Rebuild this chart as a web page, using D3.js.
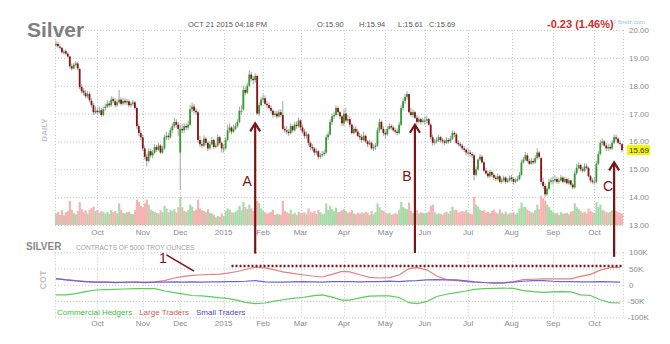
<!DOCTYPE html>
<html>
<head>
<meta charset="utf-8">
<script src="https://cdn.jsdelivr.net/npm/d3@7"></script>
<style>
  body { margin: 0; background: #fff; }
  svg { display: block; }
  text { font-family: "Liberation Sans", Arial, sans-serif; }
</style>
</head>
<body>
<svg id="chart" width="670" height="344"></svg>
<script>
// ---- trading calendar ----
const firstDay = "2014-09-02";
const lastDay = "2015-10-21";
const holidays = ["2014-11-27", "2014-12-25", "2015-01-01", "2015-01-19", "2015-02-16",
                  "2015-04-03", "2015-05-25", "2015-07-03", "2015-09-07"];
const monthLabels = ["Oct", "Nov", "Dec", "2015", "Feb", "Mar", "Apr", "May", "Jun", "Jul", "Aug", "Sep", "Oct"];

// ---- daily silver futures (USD/oz), one row per month ----
const opens = [
  19.45,19.50,19.40,19.36,19.20,19.24,19.15,19.05,18.70,18.62,18.74,18.80,18.60,17.96,17.82,17.74,17.62,17.70,17.46,17.30,17.04,
  17.10,17.05,17.12,16.95,17.20,17.25,17.36,17.30,17.52,17.44,17.30,17.40,17.50,17.36,17.46,17.40,17.44,17.30,17.35,17.40,17.20,16.55,16.30,
  16.15,15.75,15.45,15.30,15.65,15.50,15.60,15.80,15.70,15.85,15.60,15.75,16.15,16.20,16.15,16.40,16.55,16.70,16.60,
  15.60,16.45,16.40,16.55,16.50,16.60,17.15,17.25,17.10,17.05,16.05,15.90,15.85,16.10,15.95,15.75,15.90,16.05,15.80,15.85,16.15,15.95,
  15.75,15.75,16.05,16.40,16.50,16.35,16.45,16.55,16.70,17.10,17.15,17.85,17.75,18.00,18.40,18.25,18.20,18.35,17.00,17.30,
  17.50,17.55,17.35,17.30,17.20,17.10,16.95,17.00,16.90,17.05,16.95,16.45,16.40,16.35,16.30,16.55,16.40,16.60,16.55,
  16.75,16.50,16.35,16.20,16.25,15.95,15.80,15.75,15.60,15.65,15.45,15.50,15.55,15.60,16.15,16.25,16.70,16.90,16.95,17.20,17.05,16.90,
  16.65,17.00,16.75,16.80,16.60,16.30,16.45,16.35,16.20,16.15,16.05,16.20,16.00,15.90,15.95,15.75,15.80,15.85,16.40,16.70,16.45,
  16.30,16.25,16.45,16.55,16.50,16.40,16.35,16.30,16.60,17.20,17.45,17.60,17.70,17.05,16.95,17.05,16.85,16.70,16.80,16.70,
  16.75,16.75,16.80,16.60,16.15,15.95,16.00,16.05,16.15,16.05,16.00,15.95,16.05,16.00,16.10,16.30,16.25,15.95,15.90,15.85,15.75,15.70,
  15.60,15.60,15.55,15.50,14.80,15.00,15.35,15.45,15.25,14.95,14.85,14.75,14.90,14.80,14.70,14.65,14.75,14.55,14.60,14.70,14.55,14.60,
  14.70,14.65,14.55,14.60,14.65,14.80,15.25,15.35,15.50,15.30,15.20,15.30,15.25,15.40,15.60,15.40,14.55,14.40,14.10,14.30,14.55,
  14.60,14.60,14.65,14.55,14.60,14.70,14.55,14.65,14.50,14.60,14.45,14.35,14.85,15.05,15.15,15.00,14.95,15.10,15.05,14.75,14.60,
  14.55,14.55,15.20,15.55,15.95,16.00,15.85,15.75,15.80,15.75,15.95,16.15,16.10,15.95,15.90
];
const highs = [
  19.62,19.58,19.48,19.40,19.30,19.30,19.20,19.08,18.80,18.82,18.88,18.85,18.65,18.05,17.92,17.85,17.80,17.78,17.55,17.38,17.25,
  17.22,17.25,17.20,17.25,17.35,17.48,17.45,17.62,17.60,17.55,17.50,17.85,17.58,17.55,17.55,17.52,17.50,17.42,17.50,17.45,17.25,16.65,16.40,
  16.25,15.85,15.55,15.75,15.75,15.70,15.90,15.88,15.95,15.90,15.85,16.25,16.35,16.30,16.50,16.65,16.85,16.80,16.70,
  16.60,16.62,16.65,16.65,16.75,17.30,17.40,17.35,17.20,17.10,16.20,16.05,16.22,16.15,16.00,16.00,16.15,16.10,15.95,16.25,16.20,16.00,
  15.90,16.15,16.60,16.65,16.55,16.60,16.65,16.80,17.25,17.30,18.00,17.95,18.10,18.55,18.50,18.35,18.45,18.40,17.40,17.60,
  17.70,17.65,17.45,17.40,17.30,17.15,17.10,17.10,17.15,17.15,17.45,16.55,16.55,16.45,16.65,16.60,16.70,16.72,16.85,
  16.80,16.60,16.45,16.35,16.30,16.00,15.90,15.80,15.75,15.70,15.58,15.65,15.70,16.25,16.35,16.80,17.00,17.05,17.30,17.25,17.10,16.95,
  17.15,17.20,16.95,16.90,16.65,16.55,16.55,16.45,16.30,16.25,16.35,16.25,16.05,16.05,16.00,15.90,15.95,16.50,16.80,16.75,16.55,
  16.40,16.55,16.65,16.62,16.58,16.50,16.45,16.70,17.30,17.55,17.70,17.80,17.72,17.20,17.15,17.10,16.95,16.90,16.85,16.85,
  16.90,16.92,16.85,16.65,16.25,16.10,16.15,16.25,16.20,16.12,16.08,16.15,16.12,16.20,16.40,16.38,16.30,16.05,15.98,15.92,15.82,15.75,
  15.75,15.70,15.62,15.55,15.10,15.40,15.55,15.50,15.30,15.05,14.95,14.98,14.95,14.85,14.78,14.85,14.80,14.68,14.78,14.75,14.68,14.78,
  14.80,14.72,14.68,14.75,14.90,15.35,15.45,15.62,15.58,15.38,15.40,15.38,15.50,15.75,15.65,15.45,14.70,14.50,14.40,14.65,14.70,
  14.75,14.80,14.72,14.70,14.80,14.75,14.72,14.70,14.68,14.62,14.50,14.95,15.20,15.25,15.20,15.08,15.22,15.20,15.10,14.80,14.68,
  14.72,15.30,15.65,16.05,16.10,16.05,15.95,15.92,15.90,16.05,16.25,16.25,16.15,16.05,15.94
];
const lows = [
  19.38,19.36,19.30,19.15,19.12,19.10,19.00,18.62,18.55,18.58,18.70,18.55,17.88,17.72,17.65,17.55,17.55,17.40,17.22,16.95,16.98,
  16.95,17.00,16.88,16.90,17.10,17.20,17.22,17.25,17.38,17.22,17.25,17.35,17.28,17.30,17.32,17.30,17.22,17.22,17.28,17.12,16.45,16.20,16.05,
  15.65,15.35,15.10,15.25,15.42,15.40,15.55,15.62,15.65,15.55,15.55,15.70,16.05,16.05,16.10,16.30,16.48,16.50,16.20,
  14.25,16.30,16.30,16.40,16.40,16.55,17.05,17.00,16.95,15.95,15.80,15.75,15.80,15.85,15.65,15.70,15.85,15.72,15.75,15.80,15.88,15.60,
  15.60,15.70,16.00,16.30,16.25,16.30,16.40,16.50,16.65,16.95,17.10,17.65,17.70,17.95,18.15,18.05,18.10,16.95,16.90,17.25,
  17.40,17.30,17.20,17.15,17.00,16.85,16.88,16.82,16.85,16.88,16.40,16.30,16.25,16.20,16.25,16.32,16.35,16.45,16.50,
  16.40,16.28,16.10,16.10,15.85,15.70,15.65,15.50,15.52,15.35,15.38,15.45,15.48,15.55,16.05,16.20,16.60,16.80,16.90,16.95,16.80,16.55,
  16.55,16.70,16.65,16.50,16.25,16.25,16.30,16.15,16.05,15.95,16.00,15.95,15.80,15.85,15.70,15.65,15.70,15.80,16.30,16.40,16.20,
  16.10,16.20,16.40,16.42,16.35,16.28,16.22,16.25,16.55,17.10,17.35,17.50,17.00,16.90,16.85,16.80,16.60,16.65,16.60,16.65,
  16.60,16.65,16.55,16.05,15.85,15.88,15.92,15.98,15.95,15.92,15.88,15.90,15.92,15.95,16.05,16.15,15.90,15.82,15.78,15.68,15.62,15.50,
  15.50,15.45,15.40,14.60,14.75,14.95,15.30,15.20,14.90,14.80,14.68,14.70,14.72,14.62,14.58,14.60,14.50,14.48,14.55,14.48,14.50,14.55,
  14.55,14.45,14.50,14.55,14.60,14.75,15.20,15.30,15.25,15.15,15.15,15.18,15.20,15.35,15.38,14.45,14.30,14.00,14.05,14.25,14.45,
  14.45,14.52,14.48,14.48,14.55,14.50,14.50,14.45,14.45,14.38,14.28,14.30,14.80,15.00,14.92,14.88,14.90,15.00,14.70,14.52,14.48,
  14.45,14.50,15.15,15.50,15.85,15.80,15.65,15.65,15.68,15.70,15.90,16.00,15.90,15.85,15.61
];
const closes = [
  19.50,19.42,19.38,19.20,19.22,19.15,19.05,18.70,18.62,18.75,18.80,18.62,17.95,17.80,17.75,17.62,17.70,17.48,17.30,17.05,17.10,
  17.05,17.10,16.95,17.15,17.25,17.35,17.30,17.50,17.45,17.30,17.40,17.50,17.35,17.45,17.40,17.45,17.30,17.35,17.40,17.20,16.55,16.30,16.15,
  15.75,15.45,15.30,15.65,15.50,15.60,15.80,15.70,15.85,15.60,15.75,16.15,16.20,16.15,16.40,16.55,16.70,16.60,16.45,
  16.45,16.40,16.55,16.50,16.60,17.15,17.25,17.10,17.05,16.05,15.90,15.85,16.10,15.95,15.75,15.90,16.05,15.80,15.85,16.15,15.95,15.75,
  15.75,16.05,16.40,16.50,16.35,16.45,16.55,16.70,17.10,17.10,17.85,17.75,18.00,18.40,18.25,18.20,18.35,17.00,17.30,17.50,
  17.55,17.35,17.30,17.20,17.10,16.95,17.00,16.90,17.05,16.95,16.45,16.40,16.35,16.30,16.55,16.40,16.60,16.55,16.75,
  16.50,16.35,16.20,16.25,15.95,15.80,15.75,15.60,15.65,15.45,15.50,15.55,15.60,16.15,16.25,16.70,16.90,16.95,17.20,17.05,16.90,16.65,
  17.00,16.75,16.80,16.60,16.30,16.45,16.35,16.20,16.15,16.05,16.20,16.00,15.90,15.95,15.75,15.80,15.85,16.40,16.70,16.45,16.30,
  16.25,16.45,16.55,16.50,16.40,16.35,16.30,16.60,17.20,17.45,17.60,17.70,17.05,16.95,17.05,16.85,16.70,16.80,16.70,16.75,
  16.75,16.80,16.60,16.15,15.95,16.00,16.05,16.15,16.05,16.00,15.95,16.05,16.00,16.10,16.30,16.25,15.95,15.90,15.85,15.75,15.70,15.60,
  15.60,15.55,15.50,14.80,15.00,15.35,15.45,15.25,14.95,14.85,14.75,14.90,14.80,14.70,14.65,14.75,14.55,14.60,14.70,14.55,14.60,14.70,
  14.65,14.55,14.60,14.65,14.80,15.25,15.35,15.50,15.30,15.20,15.30,15.25,15.40,15.60,15.45,14.55,14.40,14.10,14.30,14.55,14.60,
  14.60,14.65,14.55,14.60,14.70,14.55,14.65,14.50,14.60,14.45,14.35,14.85,15.05,15.15,15.00,14.95,15.10,15.05,14.75,14.60,14.55,
  14.55,15.20,15.55,15.95,16.00,15.85,15.75,15.80,15.75,15.95,16.15,16.10,15.95,15.92,15.69
];
// daily volume, thousands of contracts
const volumes = [
  45,52,40,58,38,50,55,95,60,48,42,55,90,62,50,58,45,60,66,72,55,
  60,48,55,50,45,52,44,58,50,55,46,85,60,48,45,50,52,44,42,58,100,90,75,
  70,85,100,80,60,55,52,48,45,58,50,75,65,50,60,55,62,48,70,
  110,70,55,52,58,80,72,55,60,100,65,58,55,50,62,48,45,40,30,35,32,45,
  35,55,65,60,50,48,52,58,75,60,90,70,62,80,65,55,60,95,85,65,
  55,50,45,48,52,60,40,44,42,40,95,55,50,45,60,42,48,40,52,
  45,48,50,42,65,52,48,55,44,60,50,42,45,85,60,75,62,55,68,50,52,58,
  62,55,48,50,58,45,42,48,44,50,46,52,48,40,55,42,50,85,70,58,55,
  50,45,48,40,42,46,44,60,90,70,65,62,88,55,48,52,58,45,50,48,
  45,48,52,75,80,50,42,46,44,40,48,52,45,55,72,58,60,48,52,55,50,58,
  50,45,42,110,80,72,60,55,58,48,52,46,55,60,50,45,62,48,44,52,42,46,
  46,50,42,48,65,88,70,72,60,55,50,48,58,80,62,115,105,95,80,70,58,
  52,45,48,40,50,44,46,48,42,52,55,85,70,62,55,48,52,46,65,55,50,
  45,90,70,80,60,55,50,48,52,58,70,55,50,48,45
];

// ---- weekly Commitments of Traders, net positions in thousands of contracts ----
const cotFirst = "2014-09-02";
const cotLast = "2015-10-20";
const commercialHedgers = [-31,-31,-27,-21,-16,-15,-14,-13,-12,-12,-12,-19,-24,-28,-33,-34,-37,-40,-42,-48,
  -54,-58,-56,-50,-46,-42,-39,-34,-31,-38,-47,-47,-40,-35,-34,-34,-39,-55,-58,-52,
  -36,-29,-24,-19,-14,-12,-11,-10,-11,-18,-21,-23,-22,-21,-22,-31,-33,-46,-55,-56];
const largeTraders = [18,16,13,10,8,8,8,7,8,8,9,13,21,25,29,31,32,33,36,41,
  47,54,52,46,40,35,31,27,24,32,41,40,31,23,21,22,30,50,53,46,
  27,16,13,10,8,7,5,6,10,16,17,18,18,18,18,26,32,45,53,54];
const smallTraders = [19,15,12,10,8,8,7,8,8,7,8,8,9,8,9,8,9,9,10,10,
  11,13,9,8,8,9,10,9,8,10,10,10,9,10,10,11,10,12,13,15,
  16,15,15,12,9,7,6,6,8,11,13,13,11,10,10,9,9,10,9,8];

const priceTicks = [13, 14, 15, 16, 17, 18, 19, 20];
const cotTicks = [100, 50, 0, -50, -100];

// ---- layout ----
const svg = d3.select("#chart");
const plotL = 55, plotR = 623;
const fmtDay = d3.timeFormat("%Y-%m-%d");
const parseDay = d3.timeParse("%Y-%m-%d");
const holidaySet = new Set(holidays);
const days = d3.timeDay.range(parseDay(firstDay), d3.timeDay.offset(parseDay(lastDay), 1))
  .filter(d => d.getDay() !== 0 && d.getDay() !== 6 && !holidaySet.has(fmtDay(d)));
const n = Math.min(days.length, closes.length, opens.length, highs.length, lows.length, volumes.length);
const dayIndex = new Map(days.map((d, i) => [fmtDay(d), i]));

const x = d3.scaleBand().domain(d3.range(n)).range([plotL, plotR]);
const bw = x.bandwidth();
const cx = i => x(i) + bw / 2;
const yP = d3.scaleLinear().domain([13, 20]).range([225, 30]);
const yV = d3.scaleLinear().domain([0, 110]).range([225, 197]);
const yC = d3.scaleLinear().domain([-100, 100]).range([317.3, 252.3]);

const monthStarts = d3.range(1, n).filter(i => days[i].getMonth() !== days[i - 1].getMonth());

const gridColor = "#c9c9c9";
const grid = svg.append("g").attr("stroke", gridColor).attr("stroke-dasharray", "1,2").attr("stroke-width", 1);

// price panel grid
grid.selectAll("line.hp").data(priceTicks).join("line").attr("class", "hp")
  .attr("x1", plotL).attr("x2", plotR).attr("y1", d => yP(d) + 0.5).attr("y2", d => yP(d) + 0.5);
grid.selectAll("line.vp").data(monthStarts).join("line").attr("class", "vp")
  .attr("x1", d => Math.round(cx(d)) + 0.5).attr("x2", d => Math.round(cx(d)) + 0.5)
  .attr("y1", yP(20)).attr("y2", yP(13));
grid.selectAll("line.ep").data([plotL, plotR]).join("line").attr("class", "ep")
  .attr("x1", d => d + 0.5).attr("x2", d => d + 0.5).attr("y1", yP(20)).attr("y2", yP(13));

// COT panel grid
grid.selectAll("line.hc").data(cotTicks).join("line").attr("class", "hc")
  .attr("x1", plotL).attr("x2", plotR).attr("y1", d => yC(d) + 0.5).attr("y2", d => yC(d) + 0.5);
grid.selectAll("line.vc").data(monthStarts).join("line").attr("class", "vc")
  .attr("x1", d => Math.round(cx(d)) + 0.5).attr("x2", d => Math.round(cx(d)) + 0.5)
  .attr("y1", yC(100)).attr("y2", yC(-100));
grid.selectAll("line.ec").data([plotL, plotR]).join("line").attr("class", "ec")
  .attr("x1", d => d + 0.5).attr("x2", d => d + 0.5).attr("y1", yC(100)).attr("y2", yC(-100));

// ---- volume ----
const idx = d3.range(n);
svg.append("g").selectAll("rect").data(idx).join("rect")
  .attr("x", i => x(i)).attr("width", bw + 0.2)
  .attr("y", i => yV(volumes[i])).attr("height", i => yV(0) - yV(volumes[i]))
  .attr("fill", i => closes[i] >= opens[i] ? "#a8dba8" : "#f6b3b3");

// ---- candles ----
const candles = svg.append("g");
candles.selectAll("line").data(idx).join("line")
  .attr("x1", cx).attr("x2", cx)
  .attr("y1", i => yP(highs[i])).attr("y2", i => yP(lows[i]))
  .attr("stroke", "#a3a3a3").attr("stroke-width", 1);
candles.selectAll("rect").data(idx).join("rect")
  .attr("x", i => cx(i) - 0.9).attr("width", 1.8)
  .attr("y", i => yP(Math.max(opens[i], closes[i])))
  .attr("height", i => Math.max(1, Math.abs(yP(opens[i]) - yP(closes[i]))))
  .attr("fill", i => closes[i] >= opens[i] ? "#2f9e2f" : "#8e1111");

// ---- COT lines ----
const cotDays = d3.timeTuesday.range(parseDay(cotFirst), d3.timeDay.offset(parseDay(cotLast), 1));
const cotX = cotDays.map(d => cx(dayIndex.get(fmtDay(d))));
const cotSeries = [
  { name: "Commercial Hedgers", values: commercialHedgers, color: "#5ccb5c", text: "#44b944" },
  { name: "Large Traders", values: largeTraders, color: "#e58080", text: "#d45a5a" },
  { name: "Small Traders", values: smallTraders, color: "#6f63d8", text: "#5548c8" }
];
const cotLine = d3.line().x((d, k) => cotX[k]).y(d => yC(d));
svg.append("g").selectAll("path").data(cotSeries).join("path")
  .attr("d", s => cotLine(s.values.slice(0, cotX.length)))
  .attr("fill", "none").attr("stroke", s => s.color).attr("stroke-width", 1.2);

// ---- axes ----
function styleAxis(g) {
  g.select(".domain").remove();
  g.selectAll(".tick line").remove();
  g.selectAll("text").attr("fill", "#8a8a8a").style("font-size", "8px")
    .style("font-family", "'Liberation Sans', Arial, sans-serif");
}
const monthAxis = d3.axisBottom(x).tickValues(monthStarts).tickFormat((d, k) => monthLabels[k]).tickSize(0).tickPadding(0);
svg.append("g").attr("transform", "translate(0,229)").call(monthAxis).call(styleAxis);
svg.append("g").attr("transform", "translate(0,320)").call(monthAxis).call(styleAxis);

svg.append("g").attr("transform", `translate(${plotR},0)`)
  .call(d3.axisRight(yP).tickValues(priceTicks).tickFormat(d3.format(".2f")).tickSize(0).tickPadding(6))
  .call(styleAxis);
svg.append("g").attr("transform", `translate(${plotR},0)`)
  .call(d3.axisRight(yC).tickValues(cotTicks).tickFormat(d => d === 0 ? "0" : d + "K").tickSize(0).tickPadding(6))
  .call(styleAxis)
  .call(g => g.selectAll("text").attr("x", d => d < 0 ? 4.5 : 6));

// last price marker
const last = closes[n - 1];
svg.append("rect").attr("x", 627).attr("y", yP(last) - 5).attr("width", 23).attr("height", 10).attr("fill", "#f5f500");
svg.append("text").attr("x", 629).attr("y", yP(last)).attr("dy", "0.35em")
  .style("font-size", "8px").attr("fill", "#333").text(d3.format(".2f")(last));

// ---- legend ----
const legend = svg.append("g").style("font-size", "8px");
let lx = 57;
cotSeries.forEach(s => {
  const t = legend.append("text").attr("x", lx).attr("y", 315).attr("fill", s.text).text(s.name);
  lx += t.node().getComputedTextLength() + 7;
});

// ---- titles ----
svg.append("text").attr("x", 27).attr("y", 37).attr("fill", "#7f7f7f")
  .style("font-size", "21px").style("font-weight", "bold").text("Silver");
const hdr = svg.append("g").style("font-size", "7.5px").attr("fill", "#555");
hdr.append("text").attr("x", 188).attr("y", 27).text("OCT 21 2015 04:18 PM");
hdr.append("text").attr("x", 317).attr("y", 27).text("O:15.90");
hdr.append("text").attr("x", 359).attr("y", 27).text("H:15.94");
hdr.append("text").attr("x", 398).attr("y", 27).text("L:15.61");
hdr.append("text").attr("x", 429).attr("y", 27).text("C:15.69");
svg.append("text").attr("x", 547).attr("y", 28).attr("fill", "#d42a2a")
  .style("font-size", "11px").style("font-weight", "bold").text("-0.23 (1.46%)");
svg.append("text").attr("x", 612).attr("y", 24).attr("fill", "#9db4d6")
  .style("font-size", "6px").text("© finviz.com");

svg.append("text").attr("transform", "translate(47,130) rotate(-90)").attr("text-anchor", "middle")
  .attr("fill", "#c2c2c2").style("font-size", "8px").style("font-weight", "bold").text("DAILY");
svg.append("text").attr("transform", "translate(46,280) rotate(-90)").attr("text-anchor", "middle")
  .attr("fill", "#c2c2c2").style("font-size", "9px").style("font-weight", "bold").text("COT");
svg.append("text").attr("x", 26).attr("y", 250).attr("fill", "#8a8a8a")
  .style("font-size", "10px").style("font-weight", "bold").text("SILVER");
svg.append("text").attr("x", 76).attr("y", 249.5).attr("fill", "#a0a0a0")
  .style("font-size", "6.6px").text("CONTRACTS OF 5000 TROY OUNCES");

// ---- annotations ----
const annColor = "#7d1414";
const ann = svg.append("g").attr("stroke", annColor).attr("fill", "none");
const arrows = [
  { label: "A", day: "2015-01-27", tip: 16.65, base: 96, lx: -8, ly: 181 },
  { label: "B", day: "2015-05-22", tip: 16.60, base: 98, lx: -8, ly: 176 },
  { label: "C", day: "2015-10-15", tip: 15.25, base: 86, lx: -6, ly: 186 }
];
arrows.forEach(a => {
  const ax = cx(dayIndex.get(a.day));
  const ty = yP(a.tip);
  ann.append("path").attr("d", `M${ax},${yC(a.base)}V${ty + 1}`).attr("stroke-width", 2.2);
  ann.append("path").attr("d", `M${ax - 5},${ty + 8}L${ax},${ty}L${ax + 5},${ty + 8}`).attr("stroke-width", 2.2);
  svg.append("text").attr("x", ax + a.lx).attr("y", a.ly).attr("text-anchor", "middle").attr("dy", "0.35em")
    .attr("fill", annColor).style("font-size", "14px").text(a.label);
});
// reference level across the large-trader peaks
ann.append("line")
  .attr("x1", cx(dayIndex.get("2015-01-08"))).attr("x2", plotR)
  .attr("y1", yC(58)).attr("y2", yC(58))
  .attr("stroke-width", 2.4).attr("stroke-dasharray", "2,2");
// marker "1"
ann.append("line")
  .attr("x1", cx(dayIndex.get("2014-11-19"))).attr("y1", yC(92))
  .attr("x2", cx(dayIndex.get("2014-12-10"))).attr("y2", yC(42))
  .attr("stroke-width", 1.5);
svg.append("text").attr("x", 163).attr("y", 258).attr("text-anchor", "middle").attr("dy", "0.35em")
  .attr("fill", annColor).style("font-size", "14px").text("1");
</script>
</body>
</html>
